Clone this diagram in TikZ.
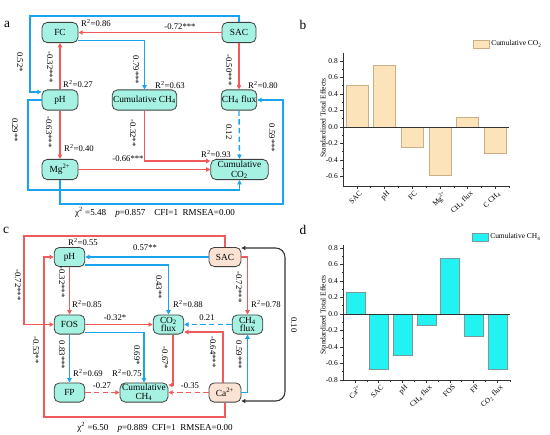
\documentclass[tikz,border=0pt]{standalone}
\usepackage{fontspec}
\setmainfont{Liberation Serif}
\usetikzlibrary{arrows.meta,calc}
\definecolor{boxfill}{HTML}{A6F2E2}
\definecolor{peach}{HTML}{FBE2D2}
\definecolor{redl}{HTML}{F05A5A}
\definecolor{bluel}{HTML}{1AA3EE}
\definecolor{barb}{HTML}{FCE3BA}
\definecolor{barbd}{HTML}{C9AE86}
\definecolor{barc}{HTML}{22F2F2}
\definecolor{barcd}{HTML}{7A9A9A}
\begin{document}
\begin{tikzpicture}[x=0.75pt,y=-0.75pt,
 box/.style={draw=black!75, fill=boxfill, rounded corners=4pt, line width=0.6pt,
   minimum width=#1, minimum height=15.2pt, inner sep=0.5pt,
   font=\fontsize{7}{7.5}\selectfont, align=center},
 boxc/.style={box=#1, minimum height=14.4pt},
 pbox/.style={boxc=#1, fill=peach},
 lab/.style={font=\fontsize{6.5}{7}\selectfont, inner sep=0pt},
 rlab/.style={lab, rotate=-90},
 ra/.style={draw=redl, line width=0.85pt, -{Triangle[length=3.2pt,width=3.2pt]}},
 ba/.style={draw=bluel, line width=1pt, -{Triangle[length=3.2pt,width=3.2pt]}},
 panel/.style={font=\fontsize{10}{11}\selectfont, inner sep=0pt},
 tick/.style={font=\fontsize{5.6}{6}\selectfont, inner sep=0pt},
 stat/.style={font=\fontsize{6.8}{7}\selectfont, inner sep=0pt}
]
\useasboundingbox (0,0) rectangle (550,435);

% ================= panel a =================
\node[panel] (la) at (7,24) {a};
\node[box=27pt] (FC) at (60,32.5) {FC};
\node[box=25.5pt] (SAC) at (239,32.5) {SAC};
\node[box=27pt] (pH) at (60,100) {pH};
\node[box=48.5pt] (CCH4) at (144.5,100) {Cumulative CH\textsubscript{4}};
\node[box=25.5pt] (CH4f) at (239,100) {CH\textsubscript{4} flux};
\node[box=27pt] (Mg) at (60,169.5) {Mg\textsuperscript{2+}};
\node[box=43pt, font=\fontsize{7}{7.5}\selectfont] (CCO2) at (239.5,169.5) {Cumulative\\CO\textsubscript{2}};

\draw[ra] (SAC.west) -- (FC.east);
\draw[ra] (pH.north) -- (FC.south);
\draw[ba] ($(FC.east)+(0,8)$) -| (CCH4.north);
\draw[ra] (SAC.south) -- (CH4f.north);
\draw[ba] (SAC.north) |- (30,16) |- ($(pH.west)+(0,-8)$);
\draw[ra] (pH.south) -- (Mg.north);
\draw[ba] (pH.west) -| (28,190) -| (CCO2.south);
\draw[ra] (Mg.east) -- (CCO2.west);
\draw[ra] (CCH4.south) |- ($(CCO2.west)+(0,-8.5)$);
\draw[ba, dashed, dash pattern=on 4pt off 2.5pt] (CH4f.south) -- (CCO2.north);
\draw[ba] (Mg.south) |- (283,204) |- (CH4f.east);

\node[lab] (a1) at (180,27) {-0.72***};
\node[lab] (a2) at (96,23) {R\textsuperscript{2}=0.86};
\node[rlab] (a3) at (50,67) {-0.32***};
\node[lab] (a4) at (78,84) {R\textsuperscript{2}=0.27};
\node[rlab] (a5) at (136,70) {0.79***};
\node[lab] (a6) at (170,85) {R\textsuperscript{2}=0.63};
\node[rlab] (a7) at (229,70) {-0.50***};
\node[lab] (a8) at (263,85) {R\textsuperscript{2}=0.80};
\node[rlab] (a9) at (20,62) {0.52*};
\node[rlab] (a10) at (49,132) {-0.63***};
\node[lab] (a11) at (79,148) {R\textsuperscript{2}=0.40};
\node[rlab] (a12) at (15,130) {0.29**};
\node[lab] (a13) at (128,159) {-0.66***};
\node[rlab] (a14) at (133,133) {-0.32**};
\node[lab] (a15) at (216,154) {R\textsuperscript{2}=0.93};
\node[rlab] (a16) at (229,132) {0.12};
\node[rlab] (a17) at (272,138) {0.59***};
\node[stat] (sa) at (155,212) {χ\textsuperscript{2} =5.48\quad\textit{p}=0.857\quad CFI=1\enspace RMSEA=0.00};

% ================= panel c =================
\node[panel] (lc) at (6,230) {c};
\node[boxc=23pt] (pHc) at (69.5,257) {pH};
\node[pbox=24pt] (SACc) at (225,257) {SAC};
\node[boxc=23pt] (FOS) at (69.5,324.5) {FOS};
\node[boxc=23pt, font=\fontsize{7}{6.5}\selectfont] (CO2f) at (168.5,324.5) {CO\textsubscript{2}\\flux};
\node[boxc=23pt, font=\fontsize{7}{6.5}\selectfont] (CH4fc) at (247.5,324.5) {CH\textsubscript{4}\\flux};
\node[boxc=23pt] (FP) at (69.5,392.5) {FP};
\node[boxc=36pt, font=\fontsize{7}{6.5}\selectfont] (CCH4c) at (144,392.5) {Cumulative\\CH\textsubscript{4}};
\node[pbox=24pt] (Ca) at (225,392.5) {Ca\textsuperscript{2+}};

\draw[ba] (SACc.west) -- (pHc.east);
\draw[ra] (SACc.north) |- (24,236) |- (FOS.west);
\draw[ba] ($(pHc.east)+(0,8)$) -| (CO2f.north);
\draw[ra] (SACc.east) -| (CH4fc.north);
\draw[ra] (pHc.south) -- (FOS.north);
\draw[ra] (FOS.east) -- (CO2f.west);
\draw[ba, dashed, dash pattern=on 4pt off 2.5pt] (CH4fc.west) -- (CO2f.east);
\draw[ra] (Ca.south) |- (44,417) |- (pHc.west);
\draw[ba] (FOS.south) -- (FP.north);
\draw[ba] ($(FOS.east)+(0,8)$) -| (CCH4c.north);
\draw[ra] ($(CO2f.south)+(4.5,0)$) |- ($(CCH4c.east)+(0,-7.5)$);
\draw[ra] ($(Ca.north)+(-2,0)$) |- ($(CO2f.east)+(0,7.5)$);
\draw[ba] (Ca.east) -| (CH4fc.south);
\draw[ra, dashed, dash pattern=on 4pt off 2.5pt] (FP.east) -- (CCH4c.west);
\draw[ra, dashed, dash pattern=on 4pt off 2.5pt] (Ca.west) -- (CCH4c.east);
\draw[black!80, line width=0.8pt, {Triangle[length=3pt,width=3pt]}-{Triangle[length=3pt,width=3pt]}, rounded corners=7pt]
  ($(SACc.east)+(0,-9)$) -- (285,248) -- (285,401) -- ($(Ca.east)+(0,8.5)$);

\node[lab] (c1) at (145,248) {0.57**};
\node[lab] (c2) at (83,242) {R\textsuperscript{2}=0.55};
\node[rlab] (c3) at (18,285) {-0.72***};
\node[rlab] (c4) at (159,287) {0.43**};
\node[lab] (c5) at (188,304) {R\textsuperscript{2}=0.88};
\node[rlab] (c6) at (239,287) {-0.72***};
\node[lab] (c7) at (266,304) {R\textsuperscript{2}=0.78};
\node[rlab] (c8) at (62,282) {-0.32***};
\node[lab] (c9) at (87,304) {R\textsuperscript{2}=0.85};
\node[lab] (c10) at (115,318) {-0.32*};
\node[lab] (c11) at (207,318) {0.21};
\node[rlab] (c12) at (36,350) {-0.53**};
\node[rlab] (c13) at (62,355) {0.83***};
\node[rlab] (c14) at (137,355) {0.69*};
\node[rlab] (c15) at (165,358) {-0.67*};
\node[rlab] (c16) at (213,352) {-0.64***};
\node[rlab] (c17) at (239,355) {0.59***};
\node[lab] (c18) at (88,373) {R\textsuperscript{2}=0.69};
\node[lab] (c19) at (127,373) {R\textsuperscript{2}=0.75};
\node[lab] (c20) at (102,386) {-0.27};
\node[lab] (c21) at (190,386) {-0.35};
\node[rlab] (c22) at (294,325) {0.10};
\node[stat] (sc) at (155,427) {χ\textsuperscript{2} =6.50\quad\textit{p}=0.889\enspace CFI=1\enspace RMSEA=0.00};

% ================= panel b =================
\node[panel] (lb) at (303,25) {b};
\draw[fill=barb, draw=barbd, line width=0.5pt] (473,40) rectangle (489,48);
\node[tick, anchor=west] (legb) at (491,44) {Cumulative CO\textsubscript{2}};
\foreach \xc/\v in {357/0.51, 384.5/0.75, 412/-0.25, 440.5/-0.59, 467.5/0.12, 495/-0.32}
  \draw[fill=barb, draw=barbd, line width=0.6pt] ({\xc-11},127) rectangle ({\xc+11},{127-82.5*\v});
\draw[black!80, line width=0.5pt] (343,53) -- (343,186) -- (509,186);
\draw[black!80, line width=0.5pt] (343,127) -- (509,127);
\foreach \v/\t in {0.8/0.8, 0.6/0.6, 0.4/0.4, 0.2/0.2, 0/0.0, -0.2/-0.2, -0.4/-0.4, -0.6/-0.6} {
  \draw[black!80, line width=0.4pt] (343,{127-82.5*\v}) -- (340,{127-82.5*\v});
  \node[tick, anchor=east] at (338,{127-82.5*\v}) {\t};
}
\foreach \v in {0.7,0.5,0.3,0.1,-0.1,-0.3,-0.5}
  \draw[black!80, line width=0.4pt] (343,{127-82.5*\v}) -- (341.5,{127-82.5*\v});
\foreach \xc/\t in {357/SAC, 384.5/pH, 412/FC, 440.5/Mg\textsuperscript{2+}, 467.5/CH\textsubscript{4} flux, 495/C CH\textsubscript{4}} {
  \draw[black!80, line width=0.4pt] (\xc,186) -- (\xc,189);
  \node[tick, anchor=north east, rotate=45] at ({\xc+2},190) {\t};
}
\foreach \xc in {370.75,398.25,426.25,454,481.25,509}
  \draw[black!80, line width=0.4pt] (\xc,186) -- (\xc,188);
\node[tick, rotate=90] (yb) at (323,118) {Standardized Total Effects};

% ================= panel d =================
\node[panel] (ld) at (303,230) {d};
\draw[fill=barc, draw=barcd, line width=0.5pt] (472,233) rectangle (488,241);
\node[tick, anchor=west] (legd) at (490,237) {Cumulative CH\textsubscript{4}};
\foreach \xc/\v in {355.5/0.26, 378.5/-0.67, 402.5/-0.50, 426.5/-0.14, 450/0.68, 473.5/-0.27, 497.5/-0.67}
  \draw[fill=barc, draw=barcd, line width=0.6pt] ({\xc-9.5},314) rectangle ({\xc+9.5},{314-82.5*\v});
\draw[black!80, line width=0.5pt] (343,245) -- (343,380) -- (510,380);
\draw[black!80, line width=0.5pt] (343,314) -- (510,314);
\foreach \v/\t in {0.8/0.8, 0.6/0.6, 0.4/0.4, 0.2/0.2, 0/0.0, -0.2/-0.2, -0.4/-0.4, -0.6/-0.6, -0.8/-0.8} {
  \draw[black!80, line width=0.4pt] (343,{314-82.5*\v}) -- (340,{314-82.5*\v});
  \node[tick, anchor=east] at (338,{314-82.5*\v}) {\t};
}
\foreach \v in {0.7,0.5,0.3,0.1,-0.1,-0.3,-0.5,-0.7}
  \draw[black!80, line width=0.4pt] (343,{314-82.5*\v}) -- (341.5,{314-82.5*\v});
\foreach \xc/\t in {355.5/Ca\textsuperscript{2+}, 378.5/SAC, 402.5/pH, 426.5/CH\textsubscript{4} flux, 450/FOS, 473.5/FP, 497.5/CO\textsubscript{2} flux} {
  \draw[black!80, line width=0.4pt] (\xc,380) -- (\xc,383);
  \node[tick, anchor=north east, rotate=45] at ({\xc+2},384) {\t};
}
\foreach \xc in {367,390.5,414.5,438.25,461.75,485.5,510}
  \draw[black!80, line width=0.4pt] (\xc,380) -- (\xc,382);
\node[tick, rotate=90] (yd) at (323,315) {Standardized Total Effects};
\end{tikzpicture}
\end{document}
